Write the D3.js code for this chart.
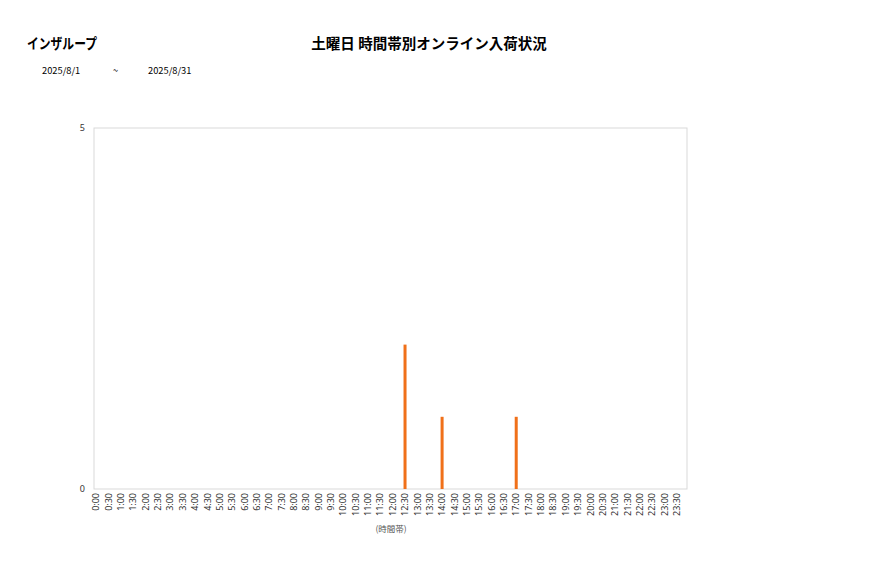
<!DOCTYPE html>
<html><head><meta charset="utf-8">
<script src="https://cdn.jsdelivr.net/npm/d3@7"></script>
<style>body{margin:0;background:#fff;} text{font-family:"Noto Sans CJK JP","Noto Sans",sans-serif;}</style>
</head><body>
<svg id="c" width="877" height="578"></svg>
<script>
const categories = [];
for (let h = 0; h < 24; h++) { categories.push(h + ":00"); categories.push(h + ":30"); }
const values = categories.map(c => ({"12:30": 2, "14:00": 1, "17:00": 1})[c] || 0);
const yTicks = [0, 5];
const chartTitle = "土曜日 時間帯別オンライン入荷状況";
const shopName = "インザループ";
const dateFrom = "2025/8/1", dateTo = "2025/8/31";
const xTitle = "(時間帯)";

const svg = d3.select("#c");
const m = {l: 94, r: 687, t: 128, b: 489};
const x = d3.scaleBand().domain(categories).range([m.l - 4, m.r - 4]);
const y = d3.scaleLinear().domain([0, 5]).range([m.b, m.t]);

svg.append("rect").attr("x", m.l).attr("y", m.t).attr("width", m.r - m.l).attr("height", m.b - m.t)
  .attr("fill", "none").attr("stroke", "#d9d9d9").attr("stroke-width", 1);

svg.append("text").attr("x", 27).attr("y", 49).attr("font-size", 14.5).attr("font-weight", "bold")
  .attr("textLength", 70).attr("lengthAdjust", "spacingAndGlyphs").text(shopName);
svg.append("text").attr("x", 429).attr("y", 49).attr("text-anchor", "middle").attr("font-size", 14.5).attr("font-weight", "bold").text(chartTitle);
svg.append("text").attr("x", 42).attr("y", 74).attr("font-size", 9.3).text(dateFrom);
svg.append("text").attr("x", 113).attr("y", 74).attr("font-size", 9.3).text("~");
svg.append("text").attr("x", 148).attr("y", 74).attr("font-size", 9.3).text(dateTo);

const yAxis = d3.axisLeft(y).tickValues(yTicks).tickFormat(d3.format("d")).tickSize(0).tickPadding(9);
svg.append("g").attr("transform", `translate(${m.l},0)`).call(yAxis)
  .call(g => g.select(".domain").remove())
  .selectAll("text").attr("font-size", 9).attr("fill", "#333").style("font-family", "\"Noto Sans\",sans-serif");

const xAxis = d3.axisBottom(x).tickSize(0).tickPadding(0);
svg.append("g").attr("transform", `translate(0,${m.b})`).call(xAxis)
  .call(g => g.select(".domain").remove())
  .selectAll("text").attr("font-size", 9).attr("fill", "#333")
  .style("font-family", "\"Noto Sans\",sans-serif")
  .attr("text-anchor", "end").attr("dy", "0.35em")
  .attr("transform", "translate(0,4) rotate(-90)").attr("x", 0).attr("y", 0);

svg.append("text").attr("x", 391).attr("y", 532).attr("text-anchor", "middle").attr("font-size", 8.5).attr("fill", "#555").text(xTitle);

const bw = 3;
svg.append("g").selectAll("rect").data(categories.map((c, i) => ({c, v: values[i]})).filter(d => d.v > 0))
  .join("rect")
  .attr("x", d => x(d.c) + x.bandwidth() / 2 - bw / 2)
  .attr("y", d => y(d.v)).attr("width", bw).attr("height", d => y(0) - y(d.v))
  .attr("fill", "#f07019");
</script>
</body></html>
